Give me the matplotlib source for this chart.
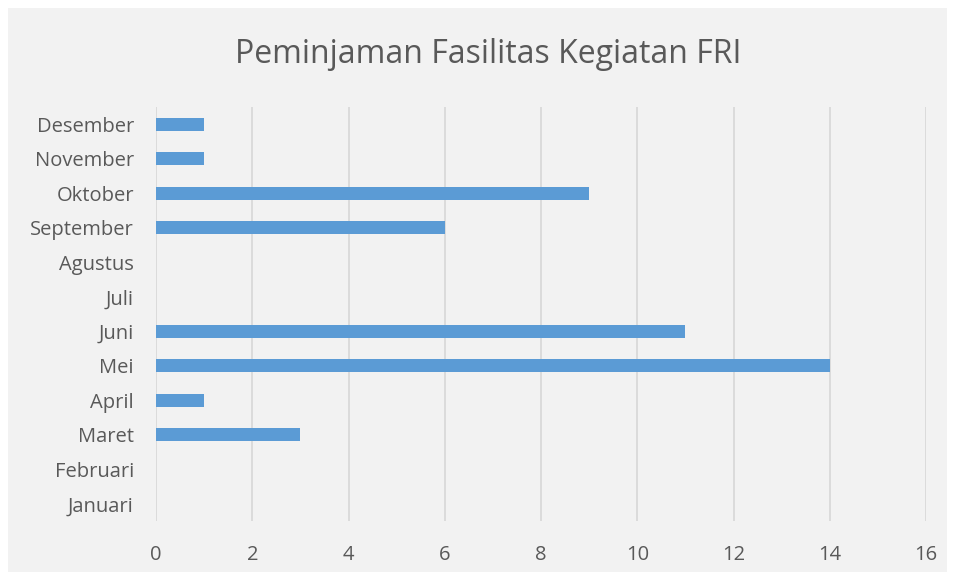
import matplotlib.pyplot as plt
from matplotlib.patches import Rectangle

months = ['Januari', 'Februari', 'Maret', 'April', 'Mei', 'Juni',
          'Juli', 'Agustus', 'September', 'Oktober', 'November', 'Desember']
counts = [0, 0, 3, 1, 14, 11, 0, 0, 6, 9, 1, 1]
x_ticks = [0, 2, 4, 6, 8, 10, 12, 14, 16]
title = 'Peminjaman Fasilitas Kegiatan FRI'


def main():
    plt.rcParams['font.family'] = ['Open Sans', 'DejaVu Sans']
    fig = plt.figure(figsize=(9.55, 5.78), dpi=100, facecolor='white')
    fig.patches.append(Rectangle((8 / 955, 6 / 578), 939 / 955, 564 / 578,
                                 transform=fig.transFigure, facecolor='#F2F2F2',
                                 edgecolor='none', zorder=-10))

    ax = fig.add_axes([156 / 955, 57 / 578, 770 / 955, 414 / 578])
    ax.set_zorder(1)
    ax.set_facecolor('none')
    ax.barh(range(len(months)), counts, height=0.37, color='#5B9BD5', zorder=3)
    ax.set_yticks(range(len(months)))
    ax.set_yticklabels(months)
    ax.set_ylim(-0.5, len(months) - 0.5)
    ax.set_xlim(0, 16)
    ax.set_xticks(x_ticks)
    ax.grid(True, axis='x', color='#D9D9D9', linewidth=1.3, zorder=0)
    for s in ax.spines.values():
        s.set_visible(False)
    ax.tick_params(length=0, labelsize=14.5, labelcolor='#595959')
    ax.tick_params(axis='x', pad=17)
    ax.tick_params(axis='y', pad=16)
    fig.text(488 / 955, 0.905, title, ha='center', va='center', fontsize=23, color='#595959')
    fig.savefig('out.png', dpi=100, facecolor='white')
    plt.close(fig)


if __name__ == '__main__':
    main()
